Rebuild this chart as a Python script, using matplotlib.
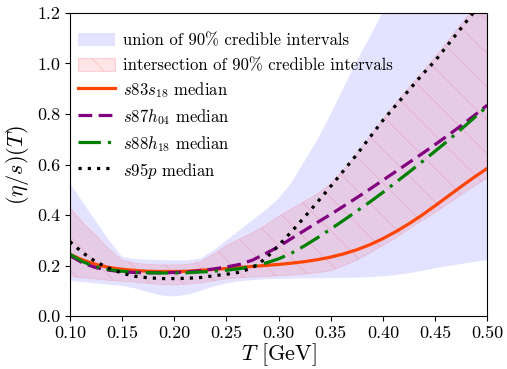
import numpy as np
import matplotlib
matplotlib.use('Agg')
import matplotlib.pyplot as plt
import matplotlib.patches as mpatches
from matplotlib.legend_handler import HandlerPatch

plt.rcParams['font.family'] = 'serif'
plt.rcParams['font.serif'] = ['cmr10']
plt.rcParams['mathtext.fontset'] = 'cm'
plt.rcParams['axes.formatter.use_mathtext'] = True
plt.rcParams['hatch.linewidth'] = 0.6

# temperature grid (GeV) and curves
T = [0.100, 0.1125, 0.125, 0.1375, 0.150, 0.1625, 0.175, 0.1875, 0.200, 0.2125,
     0.225, 0.2375, 0.250, 0.2625, 0.275, 0.2875, 0.300, 0.3125, 0.325, 0.3375,
     0.350, 0.3625, 0.375, 0.3875, 0.400, 0.4125, 0.425, 0.4375, 0.450, 0.4625,
     0.475, 0.4875, 0.500]

union_hi = [0.525, 0.45, 0.375, 0.30, 0.235, 0.226, 0.224, 0.222, 0.221, 0.221,
            0.228, 0.26, 0.30, 0.34, 0.38, 0.42, 0.465, 0.53, 0.615, 0.70,
            0.80, 0.905, 1.01, 1.105, 1.205, 1.30, 1.40, 1.50, 1.60, 1.70,
            1.80, 1.90, 2.00]
union_lo = [0.14, 0.135, 0.13, 0.125, 0.12, 0.11, 0.095, 0.082, 0.078, 0.085,
            0.10, 0.118, 0.13, 0.138, 0.143, 0.146, 0.148, 0.149, 0.15, 0.15,
            0.151, 0.152, 0.153, 0.155, 0.158, 0.163, 0.17, 0.18, 0.19, 0.198,
            0.207, 0.215, 0.222]

inter_hi = [0.43, 0.37, 0.32, 0.265, 0.222, 0.21, 0.205, 0.203, 0.203, 0.205,
            0.215, 0.245, 0.28, 0.305, 0.33, 0.36, 0.395, 0.425, 0.455, 0.485,
            0.525, 0.58, 0.645, 0.71, 0.78, 0.845, 0.905, 0.965, 1.025, 1.09,
            1.155, 1.22, 1.285]
inter_lo = [0.158, 0.152, 0.147, 0.142, 0.138, 0.135, 0.13, 0.125, 0.124, 0.127,
            0.132, 0.14, 0.148, 0.152, 0.155, 0.157, 0.16, 0.163, 0.167, 0.172,
            0.18, 0.20, 0.222, 0.25, 0.28, 0.31, 0.345, 0.378, 0.41, 0.445,
            0.48, 0.515, 0.545]

s83s18 = [0.245, 0.222, 0.205, 0.193, 0.186, 0.181, 0.178, 0.177, 0.177, 0.178,
          0.182, 0.185, 0.189, 0.193, 0.197, 0.201, 0.205, 0.210, 0.216, 0.224,
          0.234, 0.247, 0.263, 0.283, 0.307, 0.335, 0.366, 0.40, 0.437, 0.475,
          0.513, 0.55, 0.585]
s87h04 = [0.24, 0.21, 0.192, 0.182, 0.176, 0.173, 0.172, 0.172, 0.173, 0.175,
          0.18, 0.187, 0.195, 0.205, 0.222, 0.248, 0.275, 0.308, 0.34, 0.372,
          0.403, 0.436, 0.469, 0.503, 0.538, 0.573, 0.608, 0.643, 0.679, 0.716,
          0.754, 0.794, 0.835]
s88h18 = [0.245, 0.215, 0.196, 0.185, 0.178, 0.174, 0.172, 0.171, 0.171, 0.172,
          0.175, 0.178, 0.182, 0.188, 0.197, 0.21, 0.227, 0.25, 0.279, 0.311,
          0.345, 0.38, 0.416, 0.452, 0.49, 0.53, 0.57, 0.611, 0.653, 0.695,
          0.74, 0.785, 0.83]
s95p = [0.295, 0.25, 0.215, 0.19, 0.17, 0.158, 0.152, 0.149, 0.149, 0.15,
        0.153, 0.16, 0.166, 0.174, 0.192, 0.228, 0.28, 0.335, 0.393, 0.453,
        0.514, 0.577, 0.64, 0.708, 0.775, 0.835, 0.895, 0.955, 1.01, 1.075,
        1.14, 1.205, 1.27]


def small_box(legend, orig_handle, xdescent, ydescent, width, height, fontsize):
    h = 0.8 * fontsize
    return mpatches.Rectangle((-xdescent, -ydescent + (height - h) / 2.0), width, h)


fig, ax = plt.subplots(figsize=(5.07, 3.69), dpi=100)

blue_fc = (0.0, 0.0, 1.0, 0.11)
red_fc = (1.0, 0.0, 0.0, 0.1)
red_ec = (1.0, 0.2, 0.3, 0.18)

ax.fill_between(T, union_lo, union_hi, facecolor=blue_fc, linewidth=0)
ax.fill_between(T, inter_lo, inter_hi, facecolor=red_fc, edgecolor=red_ec,
                hatch='\\', linewidth=0.5)

l1, = ax.plot(T, s83s18, color='orangered', lw=2.3)
l2, = ax.plot(T, s87h04, color='purple', lw=2.3, ls=(0, (4.3, 2.0)))
l3, = ax.plot(T, s88h18, color='green', lw=2.3, ls=(0, (7, 2.2, 1, 2.2)))
l4, = ax.plot(T, s95p, color='black', lw=2.3, ls=(0, (1, 1.9)))

p1 = mpatches.Patch(facecolor=blue_fc, linewidth=0)
p2 = mpatches.Patch(facecolor=red_fc, edgecolor=red_ec, hatch='\\', linewidth=0.8)

ax.set_xlim(0.10, 0.50)
ax.set_ylim(0.0, 1.2)
xt = np.arange(0.10, 0.501, 0.05)
yt = np.arange(0.0, 1.21, 0.2)
ax.set_xticks(xt)
ax.set_yticks(yt)
ax.set_xticklabels(['%.2f' % v for v in xt])
ax.set_yticklabels(['%.1f' % v for v in yt])
ax.tick_params(labelsize=13)

ax.set_xlabel(r'$T$ [GeV]', fontsize=16, labelpad=0)
ax.set_ylabel(r'$(\eta/s)(T)$', fontsize=16)

ax.legend([p1, p2, l1, l2, l3, l4],
          [r'union of 90% credible intervals', r'intersection of 90% credible intervals',
           r'$s83s_{18}$ median', r'$s87h_{04}$ median', r'$s88h_{18}$ median', r'$s95p$ median'],
          handler_map={mpatches.Patch: HandlerPatch(patch_func=small_box)},
          loc='upper left', bbox_to_anchor=(0.0, 0.968), frameon=False, fontsize=12,
          handlelength=2.2, handleheight=1.25, borderpad=0.3, borderaxespad=0.2,
          labelspacing=0.42, handletextpad=0.5)

plt.subplots_adjust(left=0.138, right=0.961, top=0.965, bottom=0.143)
plt.savefig('out.png', dpi=100)
